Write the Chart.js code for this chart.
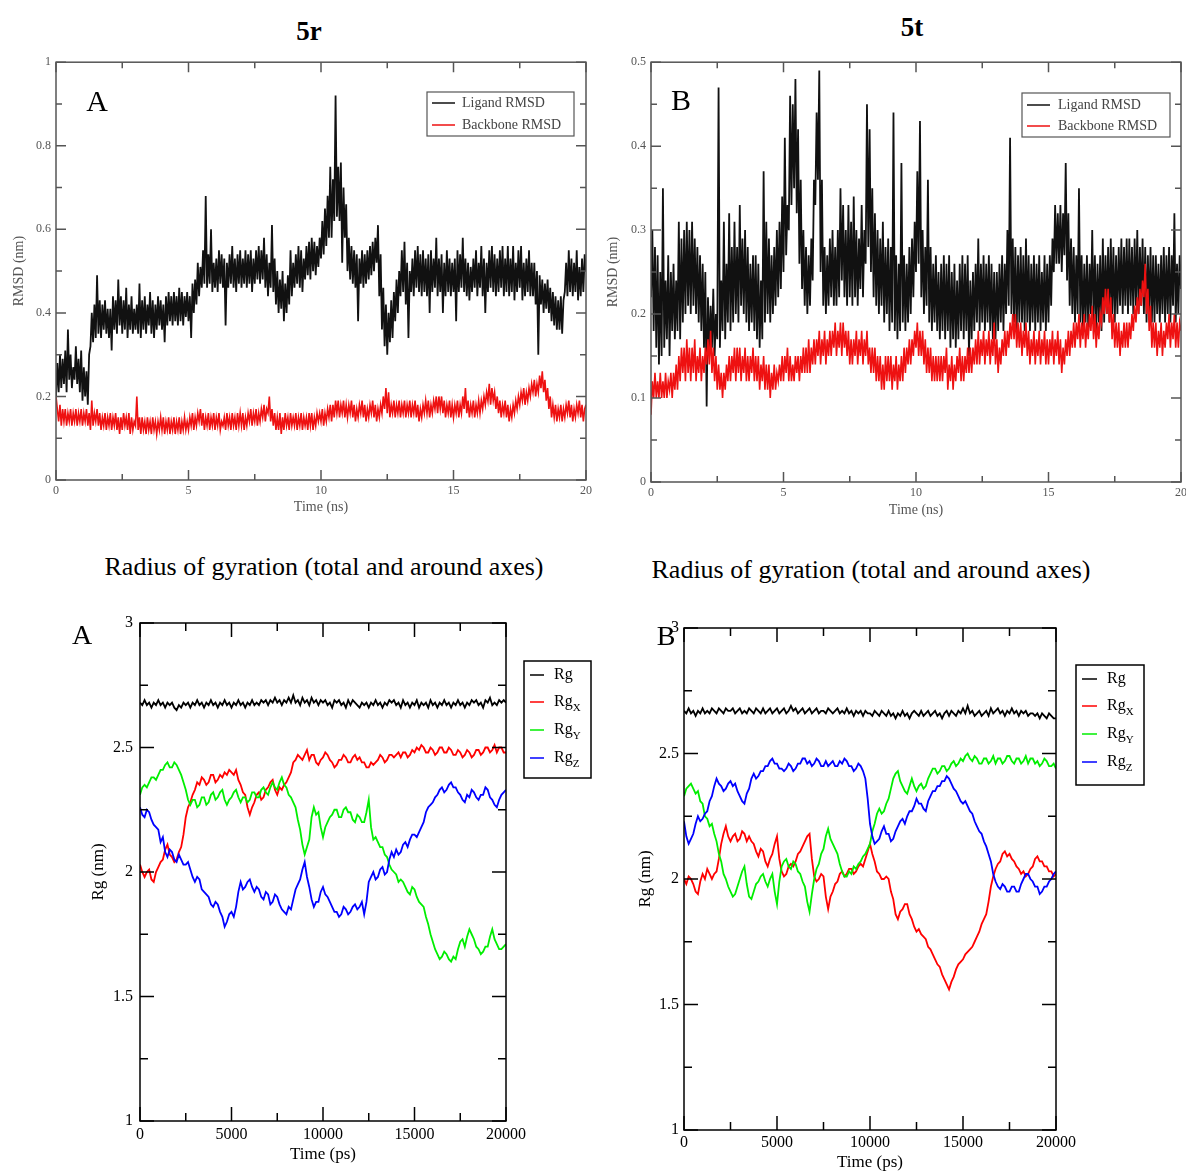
<!DOCTYPE html>
<html>
<head>
<meta charset="utf-8">
<title>RMSD and radius of gyration, 5r / 5t</title>
<script src="https://cdn.jsdelivr.net/npm/chart.js@4.4.1/dist/chart.umd.min.js"></script>
<style>
    body { margin: 0; width: 1186px; height: 1173px; position: relative; overflow: hidden; background: #fff; font-family: "Liberation Serif", "DejaVu Serif", serif; }
    .panel { position: absolute; }
    .txt { position: absolute; white-space: nowrap; color: #000; transform: translate(-50%, -50%); z-index: 2; }
    .head { font-weight: bold; font-size: 27px; }
    .sub { font-size: 26px; }
    .tag { font-size: 30px; }
</style>
</head>
<body>

<div class="txt head" style="left:309px; top:31px;">5r</div>
<div class="txt head" style="left:912px; top:27px;">5t</div>
<div class="txt sub" style="left:324px; top:567px;">Radius of gyration (total and around axes)</div>
<div class="txt sub" style="left:871px; top:570px;">Radius of gyration (total and around axes)</div>
<div class="txt tag" style="left:97px; top:101px;">A</div>
<div class="txt tag" style="left:681px; top:100px;">B</div>
<div class="txt tag" style="left:82px; top:635px; font-size:28px;">A</div>
<div class="txt tag" style="left:666px; top:636px; font-size:28px;">B</div>

<div class="panel" style="left:0px; top:50px;"><canvas id="rmsd5r" width="600" height="472"></canvas></div>
<div class="panel" style="left:600px; top:50px;"><canvas id="rmsd5t" width="600" height="475"></canvas></div>
<div class="panel" style="left:60px; top:600px;"><canvas id="rg5r" width="550" height="573"></canvas></div>
<div class="panel" style="left:620px; top:600px;"><canvas id="rg5t" width="566" height="573"></canvas></div>

<script>
// временные шаги: 0.05 ns для RMSD, 125 ps для Rg
const timeNs = Array.from({ length: 401 }, (_, i) => i / 20);
const timePs = Array.from({ length: 161 }, (_, i) => i * 125);

// tick labels
const nsTicks = [0, 5, 10, 15, 20];
const psTicks = [0, 5000, 10000, 15000, 20000];
const rmsdTicks5r = [0, 0.2, 0.4, 0.6, 0.8, 1];
const rmsdTicks5t = [0, 0.1, 0.2, 0.3, 0.4, 0.5];
const rgTicks = [1, 1.5, 2, 2.5, 3];

// 5r RMSD (nm), одна строка = 1 ns
const ligand5r = [
    0.20, 0.28, 0.21, 0.30, 0.22, 0.29, 0.23, 0.31, 0.21, 0.36, 0.24, 0.30, 0.22, 0.27, 0.24, 0.32, 0.23, 0.29, 0.21, 0.31,
    0.19, 0.27, 0.20, 0.26, 0.18, 0.30, 0.32, 0.40, 0.33, 0.42, 0.34, 0.49, 0.35, 0.43, 0.34, 0.42, 0.36, 0.43, 0.35, 0.41,
    0.34, 0.41, 0.31, 0.44, 0.36, 0.43, 0.35, 0.48, 0.37, 0.44, 0.35, 0.43, 0.36, 0.46, 0.34, 0.42, 0.36, 0.44, 0.35, 0.41,
    0.36, 0.42, 0.35, 0.47, 0.34, 0.43, 0.36, 0.44, 0.35, 0.42, 0.37, 0.45, 0.35, 0.43, 0.34, 0.42, 0.36, 0.44, 0.37, 0.43,
    0.36, 0.42, 0.33, 0.44, 0.37, 0.45, 0.38, 0.44, 0.37, 0.45, 0.38, 0.44, 0.37, 0.46, 0.38, 0.45, 0.37, 0.44, 0.39, 0.45,
    0.38, 0.44, 0.34, 0.47, 0.40, 0.48, 0.42, 0.52, 0.44, 0.51, 0.46, 0.55, 0.47, 0.68, 0.46, 0.54, 0.47, 0.60, 0.45, 0.52,
    0.46, 0.53, 0.45, 0.55, 0.47, 0.54, 0.46, 0.53, 0.37, 0.52, 0.46, 0.54, 0.47, 0.56, 0.46, 0.53, 0.45, 0.54, 0.47, 0.55,
    0.46, 0.53, 0.47, 0.55, 0.46, 0.54, 0.47, 0.55, 0.45, 0.53, 0.47, 0.55, 0.48, 0.56, 0.47, 0.55, 0.48, 0.58, 0.46, 0.54,
    0.44, 0.52, 0.46, 0.61, 0.45, 0.53, 0.42, 0.50, 0.40, 0.48, 0.41, 0.50, 0.38, 0.47, 0.40, 0.49, 0.42, 0.55, 0.44, 0.52,
    0.46, 0.54, 0.47, 0.56, 0.46, 0.55, 0.45, 0.53, 0.48, 0.56, 0.49, 0.57, 0.48, 0.58, 0.50, 0.57, 0.49, 0.56, 0.51, 0.58,
    0.53, 0.62, 0.54, 0.65, 0.56, 0.68, 0.58, 0.75, 0.58, 0.72, 0.62, 0.92, 0.63, 0.75, 0.62, 0.76, 0.52, 0.70, 0.58, 0.66,
    0.50, 0.58, 0.48, 0.56, 0.47, 0.55, 0.46, 0.54, 0.38, 0.53, 0.47, 0.55, 0.46, 0.54, 0.47, 0.55, 0.48, 0.56, 0.49, 0.57,
    0.50, 0.58, 0.52, 0.61, 0.44, 0.54, 0.36, 0.46, 0.32, 0.42, 0.30, 0.40, 0.33, 0.43, 0.34, 0.45, 0.38, 0.48, 0.40, 0.50,
    0.44, 0.55, 0.45, 0.57, 0.42, 0.52, 0.34, 0.50, 0.45, 0.53, 0.44, 0.55, 0.46, 0.56, 0.45, 0.54, 0.44, 0.55, 0.45, 0.53,
    0.44, 0.54, 0.40, 0.55, 0.45, 0.53, 0.46, 0.58, 0.44, 0.53, 0.45, 0.54, 0.40, 0.52, 0.44, 0.55, 0.45, 0.53, 0.44, 0.52,
    0.45, 0.53, 0.38, 0.55, 0.45, 0.54, 0.46, 0.58, 0.45, 0.53, 0.44, 0.52, 0.43, 0.51, 0.45, 0.53, 0.46, 0.55, 0.44, 0.52,
    0.46, 0.56, 0.44, 0.53, 0.40, 0.52, 0.45, 0.55, 0.46, 0.56, 0.45, 0.54, 0.44, 0.53, 0.45, 0.55, 0.46, 0.56, 0.44, 0.53,
    0.45, 0.56, 0.44, 0.53, 0.45, 0.56, 0.43, 0.52, 0.45, 0.55, 0.46, 0.56, 0.43, 0.52, 0.44, 0.53, 0.45, 0.55, 0.44, 0.52,
    0.44, 0.52, 0.42, 0.50, 0.30, 0.49, 0.42, 0.48, 0.40, 0.47, 0.41, 0.48, 0.40, 0.46, 0.38, 0.45, 0.37, 0.44, 0.36, 0.43,
    0.36, 0.44, 0.35, 0.43, 0.45, 0.52, 0.44, 0.55, 0.45, 0.53, 0.44, 0.52, 0.45, 0.55, 0.43, 0.51, 0.44, 0.53, 0.45, 0.54,
    0.50
];
const backbone5r = [
    0.20, 0.17, 0.14, 0.18, 0.13, 0.17, 0.14, 0.17, 0.13, 0.16, 0.14, 0.17, 0.13, 0.16, 0.14, 0.17, 0.13, 0.16, 0.14, 0.17,
    0.13, 0.16, 0.14, 0.17, 0.13, 0.16, 0.12, 0.19, 0.13, 0.16, 0.14, 0.17, 0.13, 0.16, 0.12, 0.15, 0.13, 0.16, 0.12, 0.15,
    0.13, 0.16, 0.12, 0.15, 0.13, 0.16, 0.12, 0.15, 0.11, 0.15, 0.12, 0.16, 0.13, 0.15, 0.12, 0.16, 0.11, 0.15, 0.12, 0.14,
    0.13, 0.20, 0.12, 0.15, 0.11, 0.15, 0.12, 0.14, 0.11, 0.15, 0.12, 0.14, 0.11, 0.15, 0.12, 0.14, 0.11, 0.14, 0.12, 0.15,
    0.12, 0.15, 0.11, 0.14, 0.12, 0.15, 0.11, 0.14, 0.12, 0.15, 0.11, 0.14, 0.12, 0.15, 0.11, 0.14, 0.12, 0.15, 0.12, 0.14,
    0.12, 0.15, 0.13, 0.16, 0.12, 0.15, 0.13, 0.16, 0.14, 0.17, 0.13, 0.16, 0.12, 0.15, 0.13, 0.16, 0.12, 0.15, 0.13, 0.16,
    0.12, 0.15, 0.13, 0.16, 0.12, 0.14, 0.13, 0.15, 0.12, 0.16, 0.13, 0.15, 0.12, 0.16, 0.13, 0.15, 0.12, 0.16, 0.13, 0.16,
    0.13, 0.16, 0.12, 0.15, 0.13, 0.16, 0.14, 0.17, 0.13, 0.16, 0.14, 0.17, 0.13, 0.16, 0.14, 0.17, 0.15, 0.18, 0.14, 0.17,
    0.16, 0.20, 0.14, 0.17, 0.13, 0.16, 0.12, 0.15, 0.12, 0.16, 0.11, 0.15, 0.12, 0.16, 0.13, 0.15, 0.12, 0.16, 0.13, 0.15,
    0.13, 0.16, 0.12, 0.15, 0.13, 0.16, 0.12, 0.15, 0.13, 0.15, 0.12, 0.16, 0.13, 0.16, 0.12, 0.15, 0.13, 0.16, 0.14, 0.16,
    0.14, 0.17, 0.13, 0.16, 0.14, 0.17, 0.15, 0.18, 0.14, 0.18, 0.15, 0.19, 0.16, 0.19, 0.15, 0.18, 0.16, 0.19, 0.15, 0.18,
    0.15, 0.18, 0.16, 0.19, 0.15, 0.18, 0.14, 0.17, 0.15, 0.18, 0.16, 0.19, 0.15, 0.18, 0.14, 0.17, 0.15, 0.18, 0.16, 0.19,
    0.15, 0.18, 0.14, 0.17, 0.15, 0.18, 0.16, 0.20, 0.17, 0.22, 0.16, 0.21, 0.15, 0.18, 0.16, 0.19, 0.15, 0.18, 0.16, 0.19,
    0.15, 0.18, 0.16, 0.19, 0.15, 0.18, 0.16, 0.19, 0.15, 0.18, 0.16, 0.19, 0.15, 0.18, 0.14, 0.17, 0.15, 0.18, 0.16, 0.19,
    0.16, 0.19, 0.15, 0.18, 0.16, 0.19, 0.17, 0.20, 0.16, 0.20, 0.17, 0.20, 0.16, 0.19, 0.15, 0.18, 0.16, 0.19, 0.15, 0.18,
    0.15, 0.18, 0.16, 0.19, 0.15, 0.18, 0.16, 0.20, 0.17, 0.22, 0.16, 0.19, 0.15, 0.18, 0.16, 0.19, 0.15, 0.18, 0.16, 0.19,
    0.16, 0.19, 0.17, 0.20, 0.18, 0.21, 0.19, 0.23, 0.18, 0.22, 0.19, 0.21, 0.17, 0.20, 0.16, 0.19, 0.15, 0.18, 0.16, 0.19,
    0.15, 0.18, 0.14, 0.17, 0.15, 0.18, 0.16, 0.19, 0.17, 0.20, 0.18, 0.21, 0.19, 0.22, 0.18, 0.21, 0.19, 0.22, 0.20, 0.23,
    0.21, 0.24, 0.20, 0.23, 0.21, 0.25, 0.22, 0.26, 0.21, 0.24, 0.19, 0.22, 0.17, 0.20, 0.15, 0.18, 0.15, 0.18, 0.14, 0.17,
    0.15, 0.18, 0.14, 0.17, 0.15, 0.18, 0.16, 0.19, 0.15, 0.18, 0.14, 0.17, 0.15, 0.18, 0.16, 0.19, 0.15, 0.18, 0.14, 0.17,
    0.18
];

// 5t RMSD (nm)
const ligand5t = [
    0.22, 0.30, 0.18, 0.28, 0.16, 0.27, 0.14, 0.25, 0.15, 0.35, 0.16, 0.24, 0.17, 0.27, 0.15, 0.25, 0.18, 0.26, 0.17, 0.24,
    0.18, 0.31, 0.17, 0.29, 0.19, 0.30, 0.20, 0.31, 0.21, 0.30, 0.20, 0.31, 0.21, 0.29, 0.20, 0.28, 0.19, 0.27, 0.18, 0.26,
    0.16, 0.25, 0.09, 0.22, 0.15, 0.21, 0.16, 0.23, 0.15, 0.20, 0.17, 0.47, 0.16, 0.24, 0.18, 0.31, 0.17, 0.26, 0.19, 0.32,
    0.18, 0.28, 0.19, 0.31, 0.20, 0.28, 0.19, 0.33, 0.21, 0.29, 0.20, 0.30, 0.19, 0.28, 0.18, 0.26, 0.19, 0.27, 0.18, 0.27,
    0.17, 0.26, 0.16, 0.24, 0.17, 0.37, 0.19, 0.31, 0.20, 0.29, 0.19, 0.27, 0.20, 0.28, 0.21, 0.30, 0.22, 0.31, 0.23, 0.34,
    0.25, 0.41, 0.27, 0.33, 0.30, 0.46, 0.33, 0.45, 0.35, 0.48, 0.32, 0.42, 0.26, 0.36, 0.23, 0.30, 0.21, 0.28, 0.20, 0.27,
    0.21, 0.29, 0.24, 0.36, 0.33, 0.44, 0.36, 0.49, 0.25, 0.36, 0.21, 0.28, 0.20, 0.27, 0.21, 0.29, 0.22, 0.30, 0.21, 0.28,
    0.21, 0.30, 0.22, 0.35, 0.24, 0.33, 0.22, 0.30, 0.21, 0.33, 0.22, 0.31, 0.21, 0.34, 0.22, 0.30, 0.21, 0.29, 0.23, 0.33,
    0.22, 0.30, 0.26, 0.45, 0.28, 0.42, 0.25, 0.35, 0.22, 0.32, 0.21, 0.30, 0.20, 0.29, 0.21, 0.31, 0.19, 0.28, 0.20, 0.29,
    0.18, 0.28, 0.19, 0.44, 0.18, 0.27, 0.17, 0.26, 0.18, 0.38, 0.19, 0.27, 0.18, 0.26, 0.19, 0.28, 0.20, 0.29, 0.22, 0.31,
    0.25, 0.37, 0.26, 0.43, 0.22, 0.30, 0.20, 0.28, 0.21, 0.36, 0.19, 0.28, 0.18, 0.26, 0.19, 0.27, 0.18, 0.25, 0.17, 0.26,
    0.18, 0.27, 0.17, 0.26, 0.18, 0.27, 0.16, 0.25, 0.17, 0.26, 0.16, 0.24, 0.17, 0.26, 0.18, 0.27, 0.17, 0.26, 0.18, 0.27,
    0.15, 0.24, 0.17, 0.25, 0.18, 0.26, 0.19, 0.29, 0.18, 0.26, 0.19, 0.27, 0.18, 0.26, 0.19, 0.27, 0.18, 0.26, 0.17, 0.25,
    0.17, 0.25, 0.18, 0.26, 0.19, 0.27, 0.18, 0.26, 0.20, 0.30, 0.21, 0.41, 0.20, 0.29, 0.19, 0.28, 0.18, 0.27, 0.19, 0.28,
    0.19, 0.27, 0.18, 0.29, 0.19, 0.27, 0.18, 0.26, 0.19, 0.27, 0.18, 0.26, 0.19, 0.27, 0.18, 0.25, 0.19, 0.27, 0.18, 0.26,
    0.19, 0.27, 0.21, 0.29, 0.25, 0.33, 0.26, 0.32, 0.26, 0.33, 0.25, 0.32, 0.27, 0.38, 0.24, 0.32, 0.21, 0.29, 0.20, 0.28,
    0.19, 0.27, 0.20, 0.35, 0.19, 0.27, 0.18, 0.26, 0.19, 0.27, 0.18, 0.26, 0.20, 0.30, 0.19, 0.27, 0.18, 0.26, 0.19, 0.27,
    0.18, 0.29, 0.19, 0.27, 0.20, 0.28, 0.19, 0.29, 0.20, 0.28, 0.19, 0.27, 0.20, 0.28, 0.21, 0.29, 0.20, 0.28, 0.21, 0.29,
    0.20, 0.29, 0.21, 0.28, 0.20, 0.29, 0.21, 0.30, 0.20, 0.28, 0.21, 0.29, 0.20, 0.28, 0.19, 0.27, 0.20, 0.28, 0.19, 0.27,
    0.19, 0.27, 0.20, 0.26, 0.19, 0.27, 0.20, 0.28, 0.19, 0.27, 0.20, 0.28, 0.19, 0.27, 0.21, 0.32, 0.19, 0.26, 0.20, 0.27,
    0.23
];
const backbone5t = [
    0.08, 0.12, 0.10, 0.13, 0.10, 0.12, 0.10, 0.13, 0.10, 0.12, 0.10, 0.13, 0.10, 0.12, 0.11, 0.13, 0.10, 0.13, 0.11, 0.14,
    0.11, 0.15, 0.12, 0.16, 0.13, 0.16, 0.12, 0.17, 0.13, 0.16, 0.12, 0.16, 0.13, 0.17, 0.12, 0.15, 0.13, 0.16, 0.12, 0.15,
    0.13, 0.16, 0.14, 0.17, 0.14, 0.18, 0.13, 0.16, 0.12, 0.15, 0.11, 0.14, 0.11, 0.13, 0.10, 0.13, 0.11, 0.14, 0.12, 0.15,
    0.12, 0.15, 0.13, 0.16, 0.12, 0.16, 0.13, 0.16, 0.12, 0.15, 0.13, 0.16, 0.12, 0.15, 0.12, 0.15, 0.13, 0.16, 0.12, 0.15,
    0.12, 0.15, 0.11, 0.14, 0.12, 0.15, 0.11, 0.14, 0.11, 0.14, 0.10, 0.13, 0.11, 0.14, 0.11, 0.13, 0.12, 0.14, 0.12, 0.15,
    0.12, 0.15, 0.13, 0.16, 0.12, 0.15, 0.12, 0.14, 0.12, 0.15, 0.13, 0.15, 0.12, 0.15, 0.13, 0.16, 0.13, 0.16, 0.13, 0.17,
    0.13, 0.16, 0.14, 0.17, 0.14, 0.17, 0.15, 0.18, 0.14, 0.17, 0.15, 0.18, 0.14, 0.17, 0.15, 0.18, 0.15, 0.18, 0.16, 0.19,
    0.15, 0.18, 0.16, 0.19, 0.15, 0.19, 0.16, 0.18, 0.15, 0.18, 0.14, 0.17, 0.14, 0.17, 0.15, 0.18, 0.14, 0.17, 0.15, 0.18,
    0.14, 0.17, 0.15, 0.18, 0.14, 0.16, 0.13, 0.16, 0.13, 0.16, 0.12, 0.15, 0.12, 0.15, 0.11, 0.14, 0.11, 0.15, 0.12, 0.15,
    0.12, 0.15, 0.11, 0.14, 0.12, 0.15, 0.11, 0.14, 0.12, 0.15, 0.12, 0.16, 0.13, 0.16, 0.14, 0.17, 0.14, 0.17, 0.15, 0.18,
    0.16, 0.19, 0.15, 0.18, 0.15, 0.18, 0.14, 0.17, 0.13, 0.16, 0.13, 0.16, 0.12, 0.15, 0.12, 0.15, 0.12, 0.15, 0.12, 0.15,
    0.12, 0.15, 0.13, 0.16, 0.11, 0.14, 0.12, 0.15, 0.11, 0.14, 0.12, 0.15, 0.13, 0.16, 0.12, 0.15, 0.12, 0.15, 0.13, 0.16,
    0.13, 0.16, 0.13, 0.16, 0.14, 0.17, 0.14, 0.18, 0.14, 0.17, 0.15, 0.18, 0.14, 0.17, 0.15, 0.18, 0.14, 0.17, 0.15, 0.19,
    0.14, 0.17, 0.13, 0.16, 0.14, 0.17, 0.15, 0.18, 0.15, 0.18, 0.16, 0.19, 0.17, 0.20, 0.17, 0.20, 0.16, 0.19, 0.16, 0.19,
    0.15, 0.18, 0.16, 0.19, 0.15, 0.18, 0.14, 0.17, 0.15, 0.18, 0.14, 0.17, 0.15, 0.18, 0.14, 0.17, 0.15, 0.18, 0.14, 0.17,
    0.14, 0.17, 0.15, 0.18, 0.14, 0.17, 0.15, 0.18, 0.14, 0.17, 0.13, 0.16, 0.14, 0.17, 0.15, 0.18, 0.15, 0.18, 0.16, 0.19,
    0.16, 0.19, 0.17, 0.20, 0.16, 0.19, 0.17, 0.20, 0.16, 0.19, 0.17, 0.20, 0.18, 0.21, 0.17, 0.20, 0.16, 0.19, 0.17, 0.20,
    0.19, 0.22, 0.20, 0.23, 0.20, 0.23, 0.19, 0.22, 0.17, 0.20, 0.16, 0.19, 0.16, 0.19, 0.15, 0.18, 0.16, 0.19, 0.16, 0.19,
    0.16, 0.19, 0.17, 0.20, 0.18, 0.21, 0.19, 0.22, 0.20, 0.23, 0.21, 0.24, 0.22, 0.26, 0.20, 0.23, 0.18, 0.21, 0.16, 0.19,
    0.16, 0.19, 0.15, 0.18, 0.16, 0.19, 0.15, 0.18, 0.16, 0.19, 0.17, 0.20, 0.16, 0.19, 0.17, 0.20, 0.16, 0.19, 0.16, 0.19,
    0.18
];

// 5r Rg (nm), одна строка = 2500 ps
const rg5r = [
    2.68, 2.67, 2.69, 2.67, 2.68, 2.66, 2.68, 2.67, 2.69, 2.67, 2.68, 2.66, 2.68, 2.67, 2.68, 2.66, 2.65, 2.67, 2.66, 2.68,
    2.67, 2.68, 2.66, 2.68, 2.67, 2.69, 2.67, 2.68, 2.66, 2.68, 2.67, 2.69, 2.67, 2.68, 2.66, 2.68, 2.67, 2.69, 2.67, 2.68,
    2.66, 2.68, 2.67, 2.69, 2.67, 2.68, 2.66, 2.68, 2.67, 2.69, 2.67, 2.68, 2.67, 2.69, 2.68, 2.69, 2.67, 2.69, 2.68, 2.70,
    2.68, 2.69, 2.67, 2.69, 2.68, 2.70, 2.68, 2.71, 2.68, 2.69, 2.67, 2.70, 2.68, 2.69, 2.67, 2.70, 2.68, 2.69, 2.67, 2.69,
    2.68, 2.69, 2.67, 2.68, 2.66, 2.69, 2.68, 2.69, 2.67, 2.68, 2.66, 2.69, 2.67, 2.69, 2.68, 2.67, 2.66, 2.68, 2.67, 2.68,
    2.66, 2.68, 2.67, 2.69, 2.67, 2.68, 2.66, 2.68, 2.67, 2.69, 2.68, 2.69, 2.67, 2.68, 2.66, 2.69, 2.67, 2.68, 2.66, 2.68,
    2.67, 2.69, 2.66, 2.68, 2.67, 2.68, 2.66, 2.69, 2.67, 2.68, 2.66, 2.68, 2.67, 2.69, 2.67, 2.68, 2.66, 2.68, 2.67, 2.69,
    2.67, 2.68, 2.66, 2.68, 2.67, 2.69, 2.68, 2.69, 2.67, 2.68, 2.66, 2.69, 2.68, 2.70, 2.67, 2.68, 2.67, 2.69, 2.68, 2.69,
    2.68
];
const rgX5r = [
    2.03, 2.00, 1.98, 2.00, 2.01, 1.97, 1.96, 2.00, 2.02, 2.04, 2.05, 2.09, 2.11, 2.07, 2.06, 2.04, 2.05, 2.08, 2.10, 2.15,
    2.22, 2.26, 2.28, 2.31, 2.33, 2.36, 2.35, 2.38, 2.37, 2.35, 2.36, 2.39, 2.39, 2.36, 2.37, 2.39, 2.38, 2.40, 2.39, 2.41,
    2.40, 2.39, 2.41, 2.37, 2.35, 2.32, 2.31, 2.26, 2.23, 2.26, 2.28, 2.31, 2.32, 2.29, 2.30, 2.33, 2.34, 2.36, 2.37, 2.33,
    2.31, 2.34, 2.33, 2.35, 2.36, 2.38, 2.40, 2.44, 2.45, 2.47, 2.46, 2.45, 2.47, 2.49, 2.45, 2.47, 2.47, 2.44, 2.43, 2.45,
    2.46, 2.48, 2.47, 2.45, 2.44, 2.42, 2.43, 2.45, 2.45, 2.47, 2.46, 2.44, 2.44, 2.46, 2.47, 2.45, 2.46, 2.44, 2.44, 2.42,
    2.42, 2.44, 2.43, 2.44, 2.45, 2.47, 2.46, 2.44, 2.45, 2.47, 2.47, 2.46, 2.47, 2.48, 2.46, 2.48, 2.48, 2.46, 2.47, 2.49,
    2.48, 2.50, 2.49, 2.51, 2.50, 2.48, 2.48, 2.50, 2.49, 2.47, 2.48, 2.50, 2.50, 2.48, 2.48, 2.50, 2.49, 2.47, 2.47, 2.49,
    2.48, 2.46, 2.47, 2.49, 2.48, 2.46, 2.47, 2.49, 2.49, 2.47, 2.48, 2.50, 2.50, 2.48, 2.49, 2.51, 2.48, 2.50, 2.50, 2.48,
    2.48
];
const rgY5r = [
    2.31, 2.34, 2.35, 2.34, 2.36, 2.38, 2.38, 2.37, 2.39, 2.41, 2.41, 2.43, 2.44, 2.42, 2.42, 2.44, 2.43, 2.41, 2.39, 2.36,
    2.33, 2.29, 2.27, 2.29, 2.29, 2.26, 2.27, 2.30, 2.30, 2.27, 2.28, 2.31, 2.32, 2.29, 2.30, 2.32, 2.33, 2.29, 2.27, 2.29,
    2.30, 2.32, 2.33, 2.30, 2.28, 2.30, 2.30, 2.28, 2.29, 2.32, 2.32, 2.30, 2.30, 2.33, 2.34, 2.32, 2.31, 2.34, 2.36, 2.34,
    2.33, 2.36, 2.38, 2.35, 2.34, 2.31, 2.30, 2.28, 2.26, 2.21, 2.17, 2.11, 2.07, 2.10, 2.13, 2.22, 2.26, 2.23, 2.24, 2.18,
    2.14, 2.18, 2.20, 2.22, 2.23, 2.25, 2.25, 2.22, 2.22, 2.25, 2.26, 2.24, 2.24, 2.21, 2.20, 2.23, 2.22, 2.20, 2.20, 2.24,
    2.29, 2.18, 2.13, 2.14, 2.12, 2.10, 2.10, 2.07, 2.06, 2.03, 2.01, 2.00, 1.99, 1.96, 1.97, 1.96, 1.94, 1.92, 1.91, 1.94,
    1.93, 1.90, 1.88, 1.87, 1.86, 1.82, 1.79, 1.75, 1.72, 1.69, 1.67, 1.65, 1.66, 1.68, 1.67, 1.65, 1.64, 1.66, 1.65, 1.69,
    1.72, 1.73, 1.70, 1.74, 1.77, 1.75, 1.73, 1.70, 1.69, 1.67, 1.68, 1.70, 1.70, 1.74, 1.77, 1.73, 1.71, 1.69, 1.69, 1.70,
    1.71
];
const rgZ5r = [
    2.26, 2.23, 2.22, 2.25, 2.24, 2.21, 2.19, 2.18, 2.17, 2.12, 2.14, 2.08, 2.06, 2.09, 2.08, 2.05, 2.04, 2.07, 2.05, 2.03,
    2.03, 2.04, 2.01, 1.98, 1.96, 1.98, 1.97, 1.93, 1.92, 1.91, 1.90, 1.87, 1.86, 1.88, 1.87, 1.84, 1.82, 1.78, 1.80, 1.83,
    1.84, 1.82, 1.86, 1.92, 1.96, 1.93, 1.94, 1.96, 1.97, 1.94, 1.92, 1.94, 1.93, 1.90, 1.89, 1.92, 1.91, 1.87, 1.88, 1.91,
    1.90, 1.87, 1.85, 1.84, 1.83, 1.86, 1.85, 1.89, 1.93, 1.95, 1.97, 2.01, 2.04, 1.98, 1.94, 1.89, 1.86, 1.88, 1.88, 1.92,
    1.94, 1.91, 1.90, 1.88, 1.86, 1.84, 1.84, 1.82, 1.83, 1.86, 1.85, 1.83, 1.84, 1.86, 1.87, 1.85, 1.86, 1.88, 1.83, 1.88,
    1.96, 1.98, 2.00, 1.97, 1.98, 2.01, 2.02, 1.99, 2.00, 2.05, 2.08, 2.06, 2.09, 2.07, 2.08, 2.11, 2.12, 2.10, 2.13, 2.15,
    2.15, 2.14, 2.16, 2.18, 2.20, 2.24, 2.26, 2.27, 2.28, 2.30, 2.31, 2.33, 2.34, 2.32, 2.33, 2.35, 2.36, 2.34, 2.34, 2.32,
    2.31, 2.29, 2.28, 2.31, 2.30, 2.33, 2.32, 2.30, 2.29, 2.31, 2.31, 2.34, 2.33, 2.30, 2.29, 2.27, 2.26, 2.29, 2.31, 2.32,
    2.33
];

// 5t Rg (nm)
const rg5t = [
    2.67, 2.66, 2.68, 2.66, 2.67, 2.65, 2.67, 2.66, 2.68, 2.66, 2.67, 2.66, 2.68, 2.67, 2.66, 2.68, 2.67, 2.66, 2.68, 2.67,
    2.67, 2.68, 2.66, 2.67, 2.68, 2.66, 2.67, 2.66, 2.68, 2.67, 2.66, 2.68, 2.67, 2.66, 2.68, 2.66, 2.67, 2.68, 2.66, 2.67,
    2.68, 2.66, 2.67, 2.68, 2.66, 2.67, 2.69, 2.67, 2.68, 2.66, 2.67, 2.68, 2.66, 2.67, 2.68, 2.66, 2.67, 2.68, 2.66, 2.67,
    2.67, 2.66, 2.68, 2.67, 2.66, 2.67, 2.68, 2.66, 2.67, 2.66, 2.68, 2.66, 2.67, 2.65, 2.67, 2.66, 2.67, 2.65, 2.67, 2.66,
    2.66, 2.65, 2.67, 2.66, 2.65, 2.67, 2.66, 2.65, 2.67, 2.65, 2.66, 2.64, 2.66, 2.65, 2.67, 2.65, 2.66, 2.64, 2.66, 2.67,
    2.66, 2.65, 2.67, 2.65, 2.66, 2.67, 2.65, 2.66, 2.67, 2.65, 2.66, 2.64, 2.66, 2.67, 2.65, 2.67, 2.66, 2.65, 2.67, 2.66,
    2.68, 2.66, 2.69, 2.66, 2.67, 2.65, 2.66, 2.67, 2.65, 2.66, 2.67, 2.65, 2.68, 2.66, 2.67, 2.68, 2.66, 2.67, 2.65, 2.67,
    2.66, 2.68, 2.66, 2.67, 2.65, 2.67, 2.66, 2.67, 2.65, 2.66, 2.66, 2.65, 2.66, 2.64, 2.66, 2.65, 2.64, 2.66, 2.65, 2.64,
    2.64
];
const rgX5t = [
    2.00, 1.98, 2.01, 2.00, 1.98, 1.95, 1.94, 1.99, 2.02, 2.00, 2.04, 2.02, 2.00, 2.02, 2.03, 2.08, 2.14, 2.18, 2.21, 2.17,
    2.15, 2.17, 2.18, 2.15, 2.16, 2.19, 2.18, 2.15, 2.17, 2.15, 2.14, 2.11, 2.09, 2.12, 2.11, 2.07, 2.05, 2.08, 2.10, 2.14,
    2.17, 2.08, 2.03, 2.01, 2.02, 2.05, 2.06, 2.05, 2.07, 2.10, 2.11, 2.13, 2.15, 2.17, 2.18, 2.08, 2.01, 1.99, 2.00, 2.02,
    2.01, 1.93, 1.88, 1.93, 1.95, 1.98, 1.99, 2.02, 2.03, 2.01, 2.02, 2.04, 2.04, 2.02, 2.03, 2.05, 2.06, 2.05, 2.08, 2.11,
    2.14, 2.10, 2.07, 2.03, 2.02, 2.00, 2.00, 2.01, 2.00, 1.95, 1.92, 1.86, 1.84, 1.87, 1.88, 1.90, 1.90, 1.86, 1.84, 1.81,
    1.79, 1.80, 1.78, 1.77, 1.76, 1.73, 1.72, 1.70, 1.68, 1.66, 1.65, 1.62, 1.60, 1.58, 1.56, 1.59, 1.61, 1.64, 1.66, 1.67,
    1.68, 1.70, 1.71, 1.72, 1.73, 1.75, 1.77, 1.79, 1.82, 1.84, 1.86, 1.91, 1.97, 2.01, 2.04, 2.06, 2.07, 2.10, 2.11, 2.09,
    2.10, 2.08, 2.07, 2.05, 2.04, 2.02, 2.03, 2.01, 2.02, 2.04, 2.05, 2.08, 2.09, 2.07, 2.07, 2.05, 2.05, 2.03, 2.03, 2.01,
    2.02
];
const rgY5t = [
    2.33, 2.36, 2.37, 2.38, 2.36, 2.34, 2.35, 2.31, 2.30, 2.25, 2.24, 2.21, 2.22, 2.18, 2.15, 2.10, 2.07, 2.02, 2.00, 1.97,
    1.95, 1.93, 1.94, 1.97, 2.00, 2.03, 2.05, 1.98, 1.93, 1.92, 1.95, 1.98, 1.99, 2.01, 2.02, 1.99, 1.97, 2.00, 2.02, 1.95,
    1.90, 1.99, 2.05, 2.07, 2.08, 2.05, 2.04, 2.07, 2.06, 2.03, 2.02, 1.99, 1.97, 1.91, 1.87, 1.94, 2.00, 2.04, 2.06, 2.10,
    2.12, 2.17, 2.20, 2.16, 2.14, 2.12, 2.10, 2.06, 2.03, 2.01, 2.01, 2.03, 2.02, 2.05, 2.04, 2.06, 2.07, 2.09, 2.10, 2.12,
    2.14, 2.19, 2.22, 2.26, 2.28, 2.26, 2.27, 2.30, 2.32, 2.36, 2.40, 2.42, 2.43, 2.39, 2.37, 2.35, 2.34, 2.37, 2.40, 2.37,
    2.35, 2.37, 2.38, 2.36, 2.37, 2.40, 2.42, 2.44, 2.44, 2.42, 2.43, 2.45, 2.45, 2.43, 2.44, 2.46, 2.47, 2.45, 2.46, 2.48,
    2.47, 2.49, 2.50, 2.48, 2.47, 2.49, 2.48, 2.46, 2.46, 2.48, 2.48, 2.46, 2.47, 2.49, 2.46, 2.48, 2.48, 2.46, 2.47, 2.49,
    2.49, 2.47, 2.46, 2.48, 2.48, 2.46, 2.47, 2.49, 2.46, 2.48, 2.48, 2.46, 2.47, 2.45, 2.46, 2.48, 2.47, 2.45, 2.45, 2.46,
    2.44
];
const rgZ5t = [
    2.23, 2.17, 2.14, 2.16, 2.18, 2.22, 2.25, 2.23, 2.24, 2.26, 2.27, 2.31, 2.33, 2.37, 2.40, 2.38, 2.37, 2.35, 2.36, 2.38,
    2.39, 2.37, 2.38, 2.35, 2.33, 2.31, 2.30, 2.34, 2.36, 2.40, 2.42, 2.40, 2.41, 2.43, 2.43, 2.45, 2.45, 2.47, 2.48, 2.46,
    2.46, 2.44, 2.44, 2.43, 2.44, 2.46, 2.45, 2.43, 2.44, 2.46, 2.46, 2.48, 2.48, 2.46, 2.47, 2.45, 2.46, 2.48, 2.47, 2.45,
    2.45, 2.47, 2.45, 2.46, 2.47, 2.45, 2.45, 2.47, 2.46, 2.48, 2.47, 2.45, 2.45, 2.43, 2.44, 2.46, 2.45, 2.43, 2.40, 2.32,
    2.22, 2.17, 2.14, 2.15, 2.16, 2.19, 2.21, 2.18, 2.18, 2.15, 2.16, 2.19, 2.21, 2.23, 2.24, 2.22, 2.25, 2.27, 2.27, 2.29,
    2.32, 2.30, 2.30, 2.28, 2.27, 2.31, 2.33, 2.35, 2.35, 2.37, 2.37, 2.39, 2.39, 2.41, 2.40, 2.38, 2.36, 2.35, 2.33, 2.31,
    2.30, 2.31, 2.29, 2.27, 2.26, 2.23, 2.21, 2.19, 2.18, 2.15, 2.13, 2.10, 2.07, 2.02, 1.99, 1.97, 1.96, 1.98, 1.97, 1.95,
    1.95, 1.97, 1.97, 1.95, 1.95, 1.98, 2.00, 2.02, 2.02, 2.00, 1.99, 1.97, 1.97, 1.94, 1.95, 1.97, 1.97, 1.99, 2.00, 2.02,
    2.03
];

Chart.defaults.font.family = '"Liberation Serif", "DejaVu Serif", serif';
Chart.defaults.animation = false;

// Рамка и засечки внутрь со всех четырёх сторон (как в xmgrace)
const frameTicks = {
    id: 'frameTicks',
    afterDatasetsDraw(chart, args, o) {
        const { ctx, chartArea: a, scales } = chart;
        const marks = scale => {
            const vals = scale.ticks.map(t => t.value);
            const out = vals.map(v => [v, o.major]);
            for (let i = 1; i < vals.length; i++) out.push([(vals[i - 1] + vals[i]) / 2, o.minor]);
            return out;
        };
        ctx.save();
        ctx.strokeStyle = o.color;
        ctx.lineWidth = o.width;
        ctx.strokeRect(a.left, a.top, a.right - a.left, a.bottom - a.top);
        ctx.beginPath();
        marks(scales.x).forEach(([v, len]) => {
            const px = scales.x.getPixelForValue(v);
            ctx.moveTo(px, a.bottom); ctx.lineTo(px, a.bottom - len);
            ctx.moveTo(px, a.top); ctx.lineTo(px, a.top + len);
        });
        marks(scales.y).forEach(([v, len]) => {
            const py = scales.y.getPixelForValue(v);
            ctx.moveTo(a.left, py); ctx.lineTo(a.left + len, py);
            ctx.moveTo(a.right, py); ctx.lineTo(a.right - len, py);
        });
        ctx.stroke();
        ctx.restore();
    }
};

// Легенда в рамке, с подстрочными индексами
const boxLegend = {
    id: 'boxLegend',
    afterDraw(chart, args, o) {
        if (!o.rows) return;
        const ctx = chart.ctx;
        ctx.save();
        ctx.fillStyle = '#fff';
        ctx.fillRect(o.x, o.y, o.w, o.h);
        ctx.strokeStyle = o.frame;
        ctx.lineWidth = o.frameWidth;
        ctx.strokeRect(o.x, o.y, o.w, o.h);
        ctx.textBaseline = 'middle';
        o.rows.forEach((row, i) => {
            const ds = chart.data.datasets[i];
            ctx.strokeStyle = ds.borderColor;
            ctx.lineWidth = o.lineWidth;
            ctx.beginPath();
            ctx.moveTo(o.lineX0, row.y);
            ctx.lineTo(o.lineX1, row.y);
            ctx.stroke();
            ctx.fillStyle = o.textColor;
            ctx.font = o.font;
            ctx.fillText(row.text, o.textX, row.y);
            if (row.sub) {
                const w = ctx.measureText(row.text).width;
                ctx.font = o.subFont;
                ctx.fillText(row.sub, o.textX + w, row.y + o.subShift);
            }
        });
        ctx.restore();
    }
};

function makePanel(cfg) {
    const b = cfg.box, a = cfg.area;
    const yW = a.left - b.left;
    const xH = b.top + b.height - a.bottom;
    const lg = cfg.legend;
    const legendOpts = {
        x: lg.x - b.left, y: lg.y - b.top, w: lg.w, h: lg.h,
        lineX0: lg.lineX0 - b.left, lineX1: lg.lineX1 - b.left, textX: lg.textX - b.left,
        rows: lg.rows.map(r => ({ y: r.y - b.top, text: r.text, sub: r.sub })),
        font: lg.font, subFont: lg.subFont || lg.font, subShift: lg.subShift || 0,
        textColor: lg.textColor, frame: lg.frame, frameWidth: lg.frameWidth, lineWidth: lg.lineWidth
    };

    new Chart(document.getElementById(cfg.id), {
        type: 'line',
        data: {
            datasets: cfg.series.map((s, i) => ({
                label: s.name,
                data: cfg.times.map((t, k) => ({ x: t, y: s.values[k] })),
                borderColor: s.color,
                borderWidth: s.width,
                pointRadius: 0,
                fill: false,
                tension: 0,
                order: cfg.series.length - i
            }))
        },
        options: {
            responsive: false,
            parsing: false,
            normalized: true,
            layout: { padding: { left: 0, top: a.top - b.top, right: b.left + b.width - a.right, bottom: 0 } },
            plugins: {
                legend: { display: false },
                tooltip: { enabled: false },
                frameTicks: { color: cfg.frameColor, width: cfg.frameWidth, major: cfg.major, minor: cfg.minor },
                boxLegend: legendOpts
            },
            scales: {
                x: {
                    type: 'linear',
                    min: cfg.xTicks[0],
                    max: cfg.xTicks[cfg.xTicks.length - 1],
                    afterBuildTicks: s => { s.ticks = cfg.xTicks.map(v => ({ value: v })); },
                    afterFit: s => { s.height = xH; },
                    grid: { display: false, drawTicks: false },
                    border: { display: false },
                    ticks: {
                        autoSkip: false, maxRotation: 0, padding: cfg.xTickPad,
                        color: cfg.tickColor, font: { size: cfg.tickSize },
                        callback: v => String(v)
                    },
                    title: {
                        display: true, text: cfg.xTitle, color: cfg.tickColor,
                        font: { size: cfg.titleSize }, padding: { top: 0, bottom: cfg.xTitlePad }
                    }
                },
                y: {
                    type: 'linear',
                    min: cfg.yTicks[0],
                    max: cfg.yTicks[cfg.yTicks.length - 1],
                    afterBuildTicks: s => { s.ticks = cfg.yTicks.map(v => ({ value: v })); },
                    afterFit: s => { s.width = yW; },
                    grid: { display: false, drawTicks: false },
                    border: { display: false },
                    ticks: {
                        autoSkip: false, padding: cfg.yTickPad,
                        color: cfg.tickColor, font: { size: cfg.tickSize },
                        callback: v => String(v)
                    },
                    title: {
                        display: true, text: cfg.yTitle, color: cfg.tickColor,
                        font: { size: cfg.titleSize }, padding: { top: cfg.yTitlePad, bottom: 0 }
                    }
                }
            }
        },
        plugins: [frameTicks, boxLegend]
    });
}

// верхний ряд: RMSD
const rmsdLegendRows = (y1, y2) => [
    { y: y1, text: 'Ligand RMSD' },
    { y: y2, text: 'Backbone RMSD' }
];

makePanel({
    id: 'rmsd5r',
    box: { left: 0, top: 50, width: 600, height: 472 },
    area: { left: 56, top: 61, right: 586, bottom: 480 },
    times: timeNs, xTicks: nsTicks, yTicks: rmsdTicks5r,
    series: [
        { name: 'Ligand RMSD', color: '#111111', width: 1.8, values: ligand5r },
        { name: 'Backbone RMSD', color: '#ee1111', width: 1.6, values: backbone5r }
    ],
    tickColor: '#555', tickSize: 12, titleSize: 14,
    xTitle: 'Time (ns)', yTitle: 'RMSD (nm)',
    xTickPad: 4, yTickPad: 5, xTitlePad: 6, yTitlePad: 11,
    frameColor: '#555', frameWidth: 1.5, major: 10, minor: 6,
    legend: {
        x: 427, y: 92, w: 147, h: 44, lineX0: 432, lineX1: 455, textX: 462,
        rows: rmsdLegendRows(103, 125),
        font: '14px "Liberation Serif", serif', textColor: '#444',
        frame: '#555', frameWidth: 1.2, lineWidth: 1.5
    }
});

makePanel({
    id: 'rmsd5t',
    box: { left: 600, top: 50, width: 600, height: 475 },
    area: { left: 651, top: 62, right: 1181, bottom: 482 },
    times: timeNs, xTicks: nsTicks, yTicks: rmsdTicks5t,
    series: [
        { name: 'Ligand RMSD', color: '#111111', width: 1.8, values: ligand5t },
        { name: 'Backbone RMSD', color: '#ee1111', width: 1.6, values: backbone5t }
    ],
    tickColor: '#555', tickSize: 12, titleSize: 14,
    xTitle: 'Time (ns)', yTitle: 'RMSD (nm)',
    xTickPad: 4, yTickPad: 5, xTitlePad: 6, yTitlePad: 5,
    frameColor: '#555', frameWidth: 1.5, major: 10, minor: 6,
    legend: {
        x: 1022, y: 93, w: 148, h: 44, lineX0: 1027, lineX1: 1050, textX: 1058,
        rows: rmsdLegendRows(105, 126),
        font: '14px "Liberation Serif", serif', textColor: '#444',
        frame: '#555', frameWidth: 1.2, lineWidth: 1.5
    }
});

// нижний ряд: радиус гирации
const rgRows = ys => [
    { y: ys[0], text: 'Rg' },
    { y: ys[1], text: 'Rg', sub: 'X' },
    { y: ys[2], text: 'Rg', sub: 'Y' },
    { y: ys[3], text: 'Rg', sub: 'Z' }
];
const rgSeries = (all, x, y, z) => [
    { name: 'Rg', color: '#000000', width: 1.8, values: all },
    { name: 'RgX', color: '#ff0000', width: 1.8, values: x },
    { name: 'RgY', color: '#00ee00', width: 1.8, values: y },
    { name: 'RgZ', color: '#0000ff', width: 1.8, values: z }
];

makePanel({
    id: 'rg5r',
    box: { left: 60, top: 600, width: 550, height: 573 },
    area: { left: 140, top: 623, right: 506, bottom: 1121 },
    times: timePs, xTicks: psTicks, yTicks: rgTicks,
    series: rgSeries(rg5r, rgX5r, rgY5r, rgZ5r),
    tickColor: '#000', tickSize: 16, titleSize: 17,
    xTitle: 'Time (ps)', yTitle: 'Rg (nm)',
    xTickPad: 4, yTickPad: 7, xTitlePad: 8, yTitlePad: 28,
    frameColor: '#000', frameWidth: 1.5, major: 14, minor: 8,
    legend: {
        x: 524, y: 661, w: 67, h: 117, lineX0: 530, lineX1: 544, textX: 554,
        rows: rgRows([675, 702, 730, 758]),
        font: '16px "Liberation Serif", serif', subFont: '11px "Liberation Serif", serif', subShift: 6,
        textColor: '#000', frame: '#000', frameWidth: 1.5, lineWidth: 1.5
    }
});

makePanel({
    id: 'rg5t',
    box: { left: 620, top: 600, width: 566, height: 573 },
    area: { left: 684, top: 628, right: 1056, bottom: 1130 },
    times: timePs, xTicks: psTicks, yTicks: rgTicks,
    series: rgSeries(rg5t, rgX5t, rgY5t, rgZ5t),
    tickColor: '#000', tickSize: 16, titleSize: 17,
    xTitle: 'Time (ps)', yTitle: 'Rg (nm)',
    xTickPad: 3, yTickPad: 5, xTitlePad: 0, yTitlePad: 15,
    frameColor: '#000', frameWidth: 1.5, major: 14, minor: 8,
    legend: {
        x: 1076, y: 665, w: 68, h: 120, lineX0: 1082, lineX1: 1097, textX: 1107,
        rows: rgRows([679, 706, 734, 762]),
        font: '16px "Liberation Serif", serif', subFont: '11px "Liberation Serif", serif', subShift: 6,
        textColor: '#000', frame: '#000', frameWidth: 1.5, lineWidth: 1.5
    }
});
</script>
</body>
</html>
